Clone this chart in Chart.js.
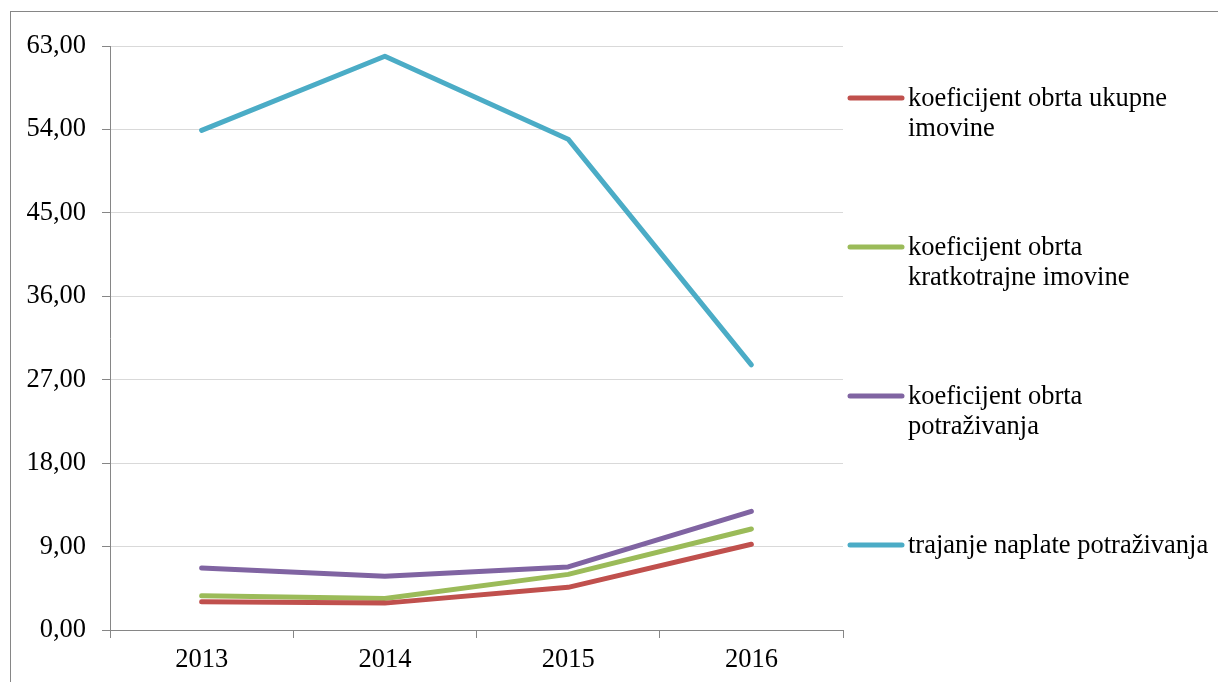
<!DOCTYPE html>
<html>

<head>
    <title>Koeficijenti obrta</title>
    <meta charset="utf-8">
    <script src="https://cdn.jsdelivr.net/npm/chart.js@4.4.1/dist/chart.umd.min.js"></script>
    <style>
        body {
            background: #fff;
            margin: 0;
        }

        canvas {
            display: block;
        }
    </style>
</head>

<body>
    <canvas id="ratio-Chart" width="1218" height="682"></canvas>
    <script>
        // Data
        var years = ['2013', '2014', '2015', '2016'];
        var obrtUkupne = [3.05, 2.9, 4.6, 9.25];
        var obrtKratkotrajne = [3.7, 3.4, 6.0, 10.9];
        var obrtPotrazivanja = [6.7, 5.8, 6.8, 12.8];
        var trajanjeNaplate = [53.9, 61.9, 52.95, 28.6];
        // legend text, broken where the original legend wraps it
        var seriesNames = [
            ['koeficijent obrta ukupne', 'imovine'],
            ['koeficijent obrta', 'kratkotrajne imovine'],
            ['koeficijent obrta', 'potraživanja'],
            ['trajanje naplate potraživanja']
        ];
        var seriesColors = ['#C0504D', '#9BBB59', '#8064A2', '#4BACC6'];
        var yTicks = { min: 0, max: 63, step: 9 };

        const font = { family: '"Liberation Serif", "Times New Roman", serif', size: 26.5 };
        const axisGray = '#868686';

        // outer frame + legend drawn by hand (multi-line like the original)
        const sideLegend = {
            id: 'sideLegend',
            beforeDraw(chart) {
                const ctx = chart.ctx;
                ctx.save();
                ctx.strokeStyle = axisGray;
                ctx.lineWidth = 1;
                ctx.strokeRect(10.5, 11.5, 1400, 1000);
                ctx.restore();
            },
            afterDraw(chart) {
                const ctx = chart.ctx;
                ctx.save();
                ctx.font = font.size + 'px ' + font.family;
                ctx.textBaseline = 'middle';
                ctx.fillStyle = '#000';
                chart.data.datasets.forEach((ds, i) => {
                    var y = 98 + i * 149;
                    ctx.strokeStyle = ds.borderColor;
                    ctx.lineWidth = 5;
                    ctx.lineCap = 'round';
                    ctx.beginPath();
                    ctx.moveTo(850, y);
                    ctx.lineTo(902, y);
                    ctx.stroke();
                    seriesNames[i].forEach((line, j) => {
                        ctx.fillText(line, 908, y + 1 + j * 30);
                    });
                });
                ctx.restore();
            }
        };

        var series = [obrtUkupne, obrtKratkotrajne, obrtPotrazivanja, trajanjeNaplate];

        var chart = new Chart(document.getElementById('ratio-Chart'), {
            type: 'line',
            data: {
                labels: years,
                datasets: series.map((d, i) => ({
                    label: seriesNames[i].join(' '),
                    data: d,
                    borderColor: seriesColors[i],
                    backgroundColor: seriesColors[i],
                    borderWidth: 5,
                    borderCapStyle: 'round',
                    borderJoinStyle: 'round',
                    pointRadius: 0,
                    tension: 0
                }))
            },
            options: {
                responsive: false,
                animation: false,
                layout: { padding: { left: 0, top: 46, right: 375, bottom: 0 } },
                plugins: {
                    legend: { display: false },
                    tooltip: { enabled: false }
                },
                scales: {
                    x: {
                        offset: true,
                        grid: { drawOnChartArea: false, drawTicks: true, tickLength: 8, tickColor: axisGray, offset: true },
                        border: { color: axisGray, width: 1 },
                        ticks: { color: '#000', font: font, padding: 6, maxRotation: 0 },
                        afterFit: (s) => { s.height = 52; }
                    },
                    y: {
                        min: yTicks.min,
                        max: yTicks.max,
                        grid: { color: '#d9d9d9', tickLength: 8, tickColor: axisGray },
                        border: { color: axisGray, width: 1 },
                        ticks: {
                            stepSize: yTicks.step,
                            color: '#000',
                            font: font,
                            padding: 16,
                            callback: (v) => v.toFixed(2).replace('.', ',')
                        },
                        afterFit: (s) => { s.width = 110; }
                    }
                }
            },
            plugins: [sideLegend]
        });
    </script>
</body>

</html>
